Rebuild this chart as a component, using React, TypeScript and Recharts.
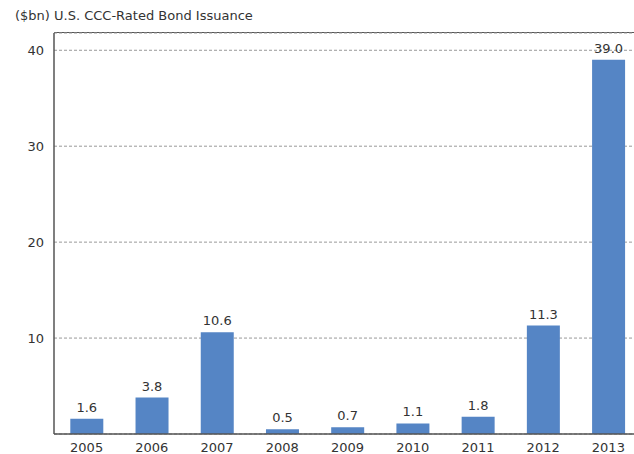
import { BarChart, Bar, XAxis, YAxis, CartesianGrid, LabelList } from 'recharts';

const years = ['2005', '2006', '2007', '2008', '2009', '2010', '2011', '2012', '2013'];
const issuance = [1.6, 3.8, 10.6, 0.5, 0.7, 1.1, 1.8, 11.3, 39.0];
const yTicks = [10, 20, 30, 40];
const yMax = 41.8;

const data = years.map((year, i) => ({ year, value: issuance[i] }));

const font = '"DejaVu Sans", sans-serif';
const textColor = '#333';

export default function App() {
  return (
    <div style={{ position: 'absolute', left: 0, top: 0, width: 634, height: 454, background: '#fff', overflow: 'hidden' }}>
      <div
        style={{
          position: 'absolute',
          left: 15,
          top: 8,
          fontFamily: font,
          fontSize: 13,
          color: textColor,
          whiteSpace: 'nowrap',
        }}
      >
        ($bn) U.S. CCC-Rated Bond Issuance
      </div>
      {/* top frame line */}
      <div style={{ position: 'absolute', left: 54, top: 32, width: 580, height: 0, borderTop: '1.5px solid #555' }} />
      {/* plot runs a few px past the right edge, as in the original */}
      <BarChart
        width={641}
        height={454}
        data={data}
        margin={{ top: 33, right: 0, bottom: 0, left: 0 }}
        barCategoryGap="25%"
      >
        <CartesianGrid vertical={false} stroke="#999" strokeDasharray="3 2" />
        <YAxis
          width={54}
          domain={[0, yMax]}
          ticks={yTicks}
          allowDataOverflow
          tickLine={false}
          tickMargin={4}
          axisLine={{ stroke: '#555', strokeWidth: 1.5 }}
          tick={{ fill: textColor, fontSize: 13, fontFamily: font }}
        />
        <XAxis
          dataKey="year"
          height={20}
          tickLine={false}
          tickSize={0}
          tickMargin={9}
          axisLine={{ stroke: '#555', strokeWidth: 1.5 }}
          tick={{ fill: textColor, fontSize: 13, fontFamily: font }}
        />
        <Bar dataKey="value" fill="#5585c5" isAnimationActive={false}>
          <LabelList
            dataKey="value"
            position="top"
            offset={7}
            formatter={(v: any) => Number(v).toFixed(1)}
            style={{ fill: textColor, fontSize: 13, fontFamily: font }}
          />
        </Bar>
      </BarChart>
    </div>
  );
}
